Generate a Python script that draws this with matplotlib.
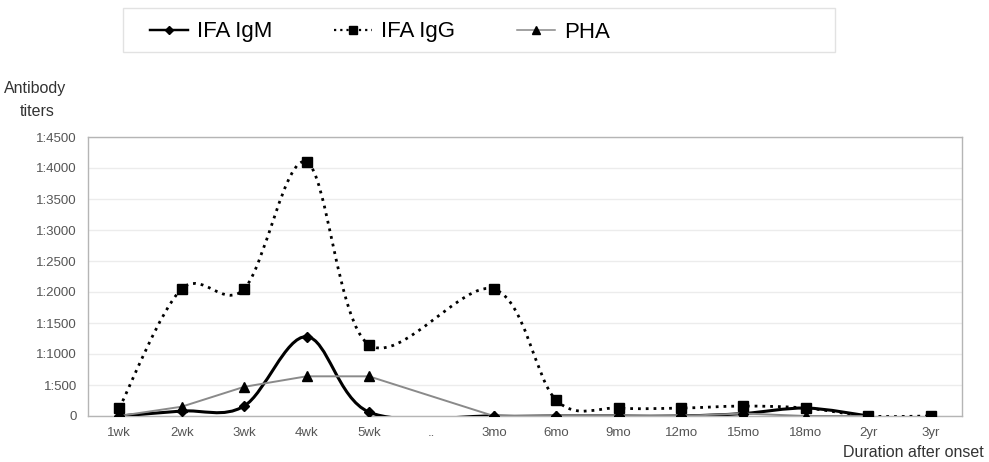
import matplotlib
matplotlib.use("Agg")
import matplotlib.pyplot as plt
import numpy as np
from matplotlib.lines import Line2D
from matplotlib.path import Path
from matplotlib.patches import PathPatch, Rectangle

plt.rcParams["font.family"] = ["Liberation Sans", "DejaVu Sans"]

# categories along the x axis (".." is a gap with no measurements)
periods = ["1wk", "2wk", "3wk", "4wk", "5wk", "..", "3mo", "6mo",
           "9mo", "12mo", "15mo", "18mo", "2yr", "3yr"]
nan = np.nan
ifa_igm = [0, 80, 160, 1280, 64, nan, 0, 0, 0, 0, 40, 128, 0, nan]
ifa_igg = [128, 2048, 2048, 4096, 1150, nan, 2048, 256, 128, 128, 160, 128, 0, 0]
pha = [0, 150, 470, 640, 640, nan, 0, 0, 0, 0, 40, 0, 0, nan]

y_ticks = [0, 500, 1000, 1500, 2000, 2500, 3000, 3500, 4000, 4500]
y_ticklabels = ["0", "1:500", "1:1000", "1:1500", "1:2000", "1:2500",
                "1:3000", "1:3500", "1:4000", "1:4500"]


def smooth_path(xs, ys):
    """Excel-style smoothed line through the points, as cubic Bezier segments."""
    pts = np.column_stack([xs, ys])
    n = len(pts)
    verts = [pts[0]]
    codes = [Path.MOVETO]
    for i in range(n - 1):
        p0 = pts[i - 1] if i > 0 else pts[i]
        p1, p2 = pts[i], pts[i + 1]
        p3 = pts[i + 2] if i + 2 < n else pts[i + 1]
        verts += [p1 + (p2 - p0) / 6.0, p2 - (p3 - p1) / 6.0, p2]
        codes += [Path.CURVE4] * 3
    return Path(verts, codes)


fig = plt.figure(figsize=(9.89, 4.62), dpi=100)
ax = fig.add_axes([88 / 989, 1 - 416 / 462, 874 / 989, 279 / 462])

x = np.arange(len(periods))
tick_color = "#555555"
dot_style = (0, (1, 1.8))

series = [
    (ifa_igm, "IFA IgM", dict(color="black", lw=2.2, ls="-"), dict(marker="D", ms=5.5), True),
    (ifa_igg, "IFA IgG", dict(color="black", lw=2.0, ls=dot_style), dict(marker="s", ms=7.5), True),
    (pha, "PHA", dict(color="#8a8a8a", lw=1.4, ls="-"), dict(marker="^", ms=7), False),
]

handles = []
for vals, label, line_kw, mk_kw, smooth in series:
    v = np.array(vals, dtype=float)
    ok = ~np.isnan(v)
    if smooth:
        patch = PathPatch(smooth_path(x[ok], v[ok]), fill=False,
                          edgecolor=line_kw["color"], lw=line_kw["lw"],
                          ls=line_kw["ls"], zorder=3)
        ax.add_patch(patch)
    else:
        ax.plot(x[ok], v[ok], color=line_kw["color"], lw=line_kw["lw"],
                ls=line_kw["ls"], zorder=3)
    ax.plot(x[ok], v[ok], ls="none", color="black", zorder=4, **mk_kw)
    handles.append(Line2D([], [], color=line_kw["color"], lw=line_kw["lw"] * 0.8,
                          ls=line_kw["ls"], markerfacecolor="black",
                          markeredgecolor="black", marker=mk_kw["marker"],
                          ms=mk_kw["ms"] * 0.75))

ax.set_xlim(-0.5, len(periods) - 0.5)
ax.set_ylim(0, 4500)
ax.set_xticks(x)
ax.set_xticklabels(periods)
ax.set_yticks(y_ticks)
ax.set_yticklabels(y_ticklabels)
ax.tick_params(length=0, labelsize=9.5, colors=tick_color, pad=8)
ax.grid(axis="y", color="#ececec", lw=1)
ax.set_axisbelow(True)
for s in ax.spines.values():
    s.set_color("#b5b5b5")
    s.set_linewidth(1)

fig.text(35 / 989, 1 - 88 / 462, "Antibody", ha="center", va="center",
         fontsize=11.5, color="#333333")
fig.text(37 / 989, 1 - 112 / 462, "titers", ha="center", va="center",
         fontsize=11.5, color="#333333")
fig.text(984 / 989, 2 / 462, "Duration after onset", ha="right",
         va="bottom", fontsize=11.5, color="#333333")

# legend box drawn separately, entries placed inside it
fig.add_artist(Rectangle((123 / 989, 1 - 52 / 462), 712 / 989, 44 / 462,
                         transform=fig.transFigure, fill=False,
                         edgecolor="#e2e2e2", lw=1))
leg = fig.legend(handles, ["IFA IgM", "IFA IgG", "PHA"], loc="center left",
                 bbox_to_anchor=(150 / 989, 1 - 32 / 462), ncol=3,
                 fontsize=16, handlelength=1.7, handletextpad=0.4,
                 columnspacing=2.8, frameon=False, borderaxespad=0,
                 borderpad=0)

fig.savefig("out.png", dpi=100)
